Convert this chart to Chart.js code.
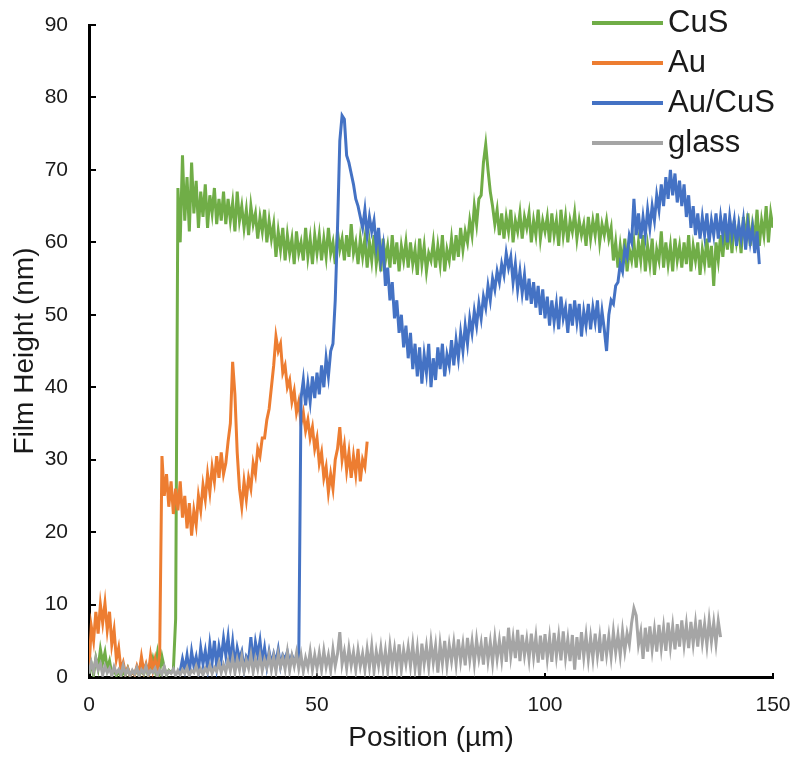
<!DOCTYPE html>
<html>
<head>
<meta charset="utf-8">
<title>Film height profiles</title>
<script src="https://cdn.jsdelivr.net/npm/chart.js@4.4.0/dist/chart.umd.min.js"></script>
<style>
  html, body { margin: 0; padding: 0; background: #fff; }
  #wrap { width: 797px; height: 758px; }
</style>
</head>
<body>
<div id="wrap"><canvas id="profileChart" width="797" height="758"></canvas></div>
<script>
// profilometer scans, one reading every 0.5 um
const STEP = 0.5;
const seriesNames = ['CuS', 'Au', 'Au/CuS', 'glass'];
const seriesColors = ['#70AD47', '#ED7D31', '#4472C4', '#A5A5A5'];
const scanStart = [0, 0, 19.5, 0];   // um where each scan begins
const xRange = [0, 150, 50];   // min, max, tick step
const yRange = [0, 90, 10];

const cusHeight = [
  0.5,1.8,0.3,2.6,1.2,3.8,2.0,3.4,1.1,2.2,0.4,1.0,0.2,0.8,0.1,0.6,0.3,1.2,0.2,0.7,
  0.3,1.2,0.2,0.9,0.4,1.5,0.2,1.1,2.5,1.0,3.2,0.8,2.8,1.3,0.3,0.9,0.6,1.0,8.0,67.5,
  60,72,63,69,61.5,71,64,68.5,62,67,63.5,68,62,66.5,64,67.5,62.5,66,63,67,
  62.5,66,63,65.5,61.5,67,63,65,62,64.5,61,65,62.5,64,60.5,63.5,61.5,64.5,60,63,
  60.5,62.5,58,61.5,59,62,57.5,61,58.5,60.5,57,61.5,58.5,60,57.5,62,58,60.5,57,61,
  58.5,61,57.5,60.5,58,62,58.5,60,57,61.5,59,60.5,57.5,61,58,62.5,58.5,60,57,60.5,
  58,60.5,56.5,60,57.5,61,57,59.5,56,60.5,57.5,59.5,56.5,61,57,60,56,59.5,57.5,60,
  56.5,60,57,59,55.5,60.5,57,59.5,56,58.5,57.5,60,56.5,59.5,57,61,56,59,57.5,60.5,
  57.5,61,58,62,59,61.5,60,63,61,65,62.5,66,66.5,71,73.5,70,67,65,62.5,64.5,
  61,64,60.5,63.5,61.5,64.5,60,63,61.5,64,60.5,63.5,62,64,60,63,61,64.5,60.5,63,
  61.5,63.5,60,64,61,63,59.5,64.5,61,63.5,60,63,61.5,64,60.5,63,61,62.5,59.5,63.5,
  60.5,63,61,64,60,62.5,61,63,60.5,62,57.5,60,56.5,59.5,57,60.5,56,59,57.5,60,
  56.5,60,57.5,61,56,59.5,57,60.5,55.5,59,57.5,61.5,56.5,60,57,59.5,56,60.5,57.5,59.5,
  56.5,60,57,61,56,59.5,57.5,60,55.5,59,57,60.5,56.5,59.5,54,60,57.5,61,58,62,
  59,62.5,58.5,63,60,62,58.5,63.5,60,64,59.5,62.5,60.5,64.5,59.5,63,61,65,60,64,62
];

const auHeight = [
  1,7,5,9,6,10,7.5,10.2,6.5,9,4.5,6.5,2.5,4,1,2,0.5,1.2,0.2,0.8,
  0.3,1.5,0.5,2.8,0.8,1.8,0.4,3,1,2.5,0.6,3.2,30.5,25,28,23.5,27,22.5,26,23,
  27,22,25,20.5,24,19.5,23,21,25,23,26.5,24.5,28,25.5,29,27,30.5,27.5,31,28,
  29.5,32.5,35,43.5,39,31,26,23.5,27,24.5,27.5,26,29.5,28,31.5,30.5,33,33,35.5,37,
  40,43,47,45,46,42,43,40,41,38,39.5,36.5,38,35,36.5,34,35.5,33,34.5,31.5,
  33,29.5,31,27.5,29,25.5,28,26,30,31.5,34.5,30,32,28.5,31,27.5,30.5,28,31.5,27,30,29,32.5
];

// Au/CuS scan, from 19.5 um
const auCusHeight = [
  0.5,
  0.8,2.5,1,3,0.6,3.5,1.5,2.8,0.9,4,1.8,3.6,1.2,4.5,2,5,1.5,4.2,2.5,5.3,
  3,5.5,2,4.8,1.5,4,2.5,3.5,1,2.8,2.2,5.5,1.8,4.8,3,5,2,4,1.5,3.5,
  1.8,3.2,2,3.8,1.5,3,2.5,3.5,2,3,2.2,2.8,2.5,38.5,41,37.5,40.5,38,41.5,38.5,
  42,39,43,40,44,41.5,45,46,52,62,74,77.5,77,72,71,69.5,68,66,65,63.5,
  62,64.5,61,63.5,61.5,63,59.5,62,57.5,59.5,54,56.5,52,54.5,49.5,52,47.5,50,45.5,48.5,
  44,47.5,42.5,46,41.5,45.5,40.5,44.5,42,46,40,44,41,45.5,42.5,46,41.5,44.5,43,46.5,
  43,46.5,44,47.5,45,48.5,46,49.5,47.5,50.5,48.5,51.5,49.5,52.5,51,54,52,55,53.5,56,
  54.5,57,55.5,58.5,56.5,58,54.5,57,53.5,56,53,55.5,52,55,51.5,54.5,51,54,50,53.5,
  49.5,52.5,48.5,52,49,51.5,48,52.5,49.5,51,47.5,51.5,48.5,52,49,51.5,47,50.5,48.5,51.5,
  48,51,49,52,47.5,50.5,48,45,50,52,51.5,54,54.5,57,56,59,58,61,60,66,
  61,64,60.5,63.5,61,64.5,62,65,63,66.5,64.5,68,65,69,66,70,66.5,69.5,65.5,68.5,
  65,68,63.5,66.5,62,65,61,64,60.5,63.5,61,64,60,63,61,64,60.5,63.5,61,64,
  60,63.5,61,63,59.5,62.5,60.5,63,59,62.5,60,62,58.5,61.5,57
];

const glassHeight = [
  0.5,2,0.8,2.5,1,1.8,0.3,1.5,0.6,1.2,0.2,1.4,0.5,1,0.3,1.6,0.4,1.1,0.2,0.9,
  0.4,1.3,0.2,1,0.5,1.5,0.3,0.9,0.6,1.2,0.2,1,0.4,1.4,0.3,0.8,0.5,1.1,0.2,0.9,
  0.3,1,0.5,1.3,0.2,0.9,0.6,1.5,0.4,1.1,0.3,1.2,0.6,1.6,0.5,1.3,0.8,2,0.6,1.7,
  0.7,2.2,0.9,2.6,0.6,2.4,1,2.8,0.8,2.3,1.2,3,0.7,2.5,1.1,2.9,0.9,2.4,1.3,3.1,
  1,2.8,0.8,3.2,1.4,2.7,1.1,3.4,0.9,2.9,1.5,3.3,1.2,3,0.8,2.6,1.3,3.5,1,3,
  1.2,3.3,1,3.6,1.4,3,0.9,3.8,1.5,3.2,6.2,1.8,3.5,1.2,3.9,1.6,3.4,1,3.7,1.5,
  3.2,1,3.8,1.4,4.2,0.8,3.5,1.6,4,1.2,3.6,0.9,4.3,1.7,3.9,1.3,4.5,1,3.7,1.8,
  4.1,1.5,4.4,1.2,3.9,0.2,4.6,1.8,4.2,1.4,4.8,2,4.3,0.6,4.5,1.9,5,1.6,4.4,2.2,
  4.7,1.8,5.2,2.2,4.5,1.6,5.4,2.4,4.9,1.9,5.1,2.6,4.6,1.7,5.5,2.3,4.8,2,5.3,2.5,
  5,2.4,5.6,2.1,6.8,2.9,5.4,2.6,6.5,2.2,5.8,3,5.2,2.5,6,2.8,5.5,2,5.7,2.4,
  5.9,2.6,5.4,2.1,6.1,2.9,5.6,2.3,6.3,2.7,5.2,2.2,5.8,1,5.5,2.4,6.2,2.8,5.7,2.5,
  5.4,2.6,6,2.9,5.5,2.2,5.9,3.1,5.6,2.8,6.2,3.4,5.8,3,6.3,3.6,6,4.5,7.5,9.5,
  8.5,4.5,6.2,2.5,6.8,3.5,7,3.8,6.5,3.5,7.2,4,6.8,3.6,7.5,4.2,7,3.8,7.3,4.2,
  7.8,4.5,7.2,4,7.6,4.6,7.4,4.2,7.9,4.8,7.3,4.4,7.8,4.9,7.5,4.6,7.7,5.5
];

const heights = [cusHeight, auHeight, auCusHeight, glassHeight];

function toPoints(arr, start) {
  return arr.map((v, i) => ({ x: start + i * STEP, y: v }));
}

const FONT = '"Liberation Sans", Arial, Helvetica, sans-serif';
const INK = '#1a1a1a';

// legend sits inside the plot, top right, like the Excel original
const insideLegend = {
  id: 'insideLegend',
  afterDraw(chart) {
    const ctx = chart.ctx;
    const x0 = 592, x1 = 663, tx = 668;
    ctx.save();
    ctx.font = '31px ' + FONT;
    ctx.textBaseline = 'middle';
    ctx.textAlign = 'left';
    chart.data.datasets.forEach((ds, i) => {
      const y = 23 + i * 40;
      ctx.strokeStyle = ds.borderColor;
      ctx.lineWidth = 4;
      ctx.beginPath();
      ctx.moveTo(x0, y);
      ctx.lineTo(x1, y);
      ctx.stroke();
      ctx.fillStyle = INK;
      ctx.fillText(ds.label, tx, y);
    });
    ctx.restore();
  }
};

const ctx = document.getElementById('profileChart').getContext('2d');
new Chart(ctx, {
  type: 'line',
  data: {
    datasets: seriesNames.map((name, i) => ({
      label: name,
      data: toPoints(heights[i], scanStart[i]),
      borderColor: seriesColors[i],
      backgroundColor: seriesColors[i],
      borderWidth: 3,
      pointRadius: 0,
      tension: 0,
      fill: false,
      order: seriesNames.length - i   // later series on top
    }))
  },
  options: {
    responsive: false,
    animation: false,
    layout: { padding: { left: 0, right: 24, top: 25, bottom: 0 } },
    plugins: {
      legend: { display: false },
      tooltip: { enabled: false }
    },
    scales: {
      x: {
        type: 'linear',
        min: xRange[0],
        max: xRange[1],
        afterFit(scale) {
          scale.height = 81;
          scale.paddingLeft = 0;
          scale.paddingRight = 0;
        },
        border: { color: '#000', width: 3 },
        grid: { drawOnChartArea: false, drawTicks: true, tickLength: -4, color: '#000', lineWidth: 2 },
        ticks: { stepSize: xRange[2], padding: 20, color: INK, font: { family: FONT, size: 21 }, maxRotation: 0 },
        title: { display: true, text: 'Position (µm)', color: INK, font: { family: FONT, size: 28 }, padding: { top: 0, bottom: 3 } }
      },
      y: {
        min: yRange[0],
        max: yRange[1],
        afterFit(scale) {
          scale.width = 89;
          scale.paddingTop = 0;
          scale.paddingBottom = 0;
        },
        border: { color: '#000', width: 3 },
        grid: { drawOnChartArea: false, drawTicks: true, tickLength: -7, color: '#000', lineWidth: 2 },
        ticks: { stepSize: yRange[2], padding: 28, color: INK, font: { family: FONT, size: 21 } },
        title: { display: true, text: 'Film Height (nm)', color: INK, font: { family: FONT, size: 28 }, padding: { top: 8, bottom: 0 } }
      }
    }
  },
  plugins: [insideLegend]
});
</script>
</body>
</html>
